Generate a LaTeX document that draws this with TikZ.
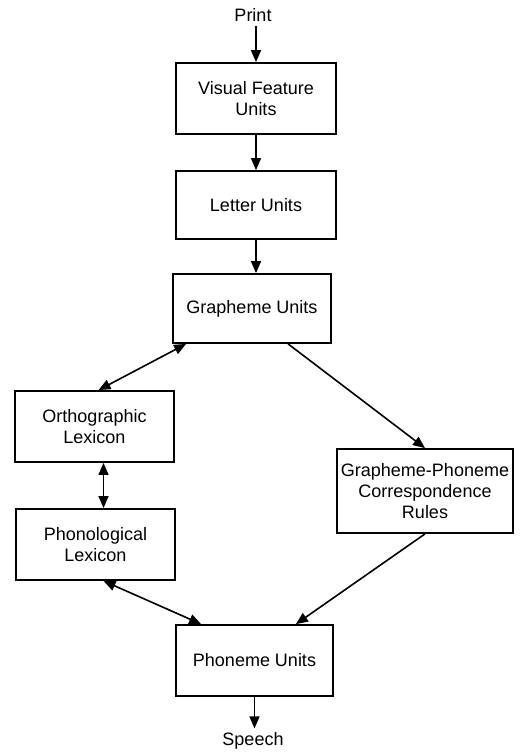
\documentclass[tikz,border=0pt]{standalone}
\usepackage{fontspec}
\setmainfont{Liberation Sans}
\usetikzlibrary{arrows.meta,calc}
\begin{document}
\begin{tikzpicture}[x=1pt,y=-1pt,
  box/.style={draw,line width=1.8pt,rectangle,inner sep=0pt,align=center,font=\fontsize{18}{21}\selectfont},
  lbl/.style={inner sep=0pt,font=\fontsize{18}{21}\selectfont},
  conn/.style={line width=1.6pt,-{Triangle[length=12pt,width=10pt]}},
  biconn/.style={line width=1.6pt,{Triangle[length=12pt,width=10pt]}-{Triangle[length=12pt,width=10pt]}}]
\fill[white] (0,0) rectangle (532,754);
\useasboundingbox (0,0) rectangle (532,754);
\node[lbl] (print) at (253,15) {Print};
\node[box,minimum width=160pt,minimum height=71pt] (vis) at (256,98.5) {Visual Feature\\Units};
\node[box,minimum width=160pt,minimum height=68pt] (let) at (256,205) {Letter Units};
\node[box,minimum width=158pt,minimum height=69pt] (gra) at (252,308.5) {Grapheme Units};
\node[box,minimum width=159pt,minimum height=71pt] (ort) at (94.5,426.5) {Orthographic\\Lexicon};
\node[box,minimum width=159pt,minimum height=71pt] (pho) at (95.5,544.5) {Phonological\\Lexicon};
\node[box,minimum width=176pt,minimum height=84pt] (gpc) at (425,491) {Grapheme-Phoneme\\Correspondence\\Rules};
\node[box,minimum width=157pt,minimum height=71pt] (phu) at (254.5,660.5) {Phoneme Units};
\node[lbl] (speech) at (253,741) {Speech};
\coordinate (printend) at ($(print.south -| vis.north)+(0,4)$);
\coordinate (speechend) at ($(speech.north -| phu.south)+(0,-4)$);
\draw[conn] (printend) -- (vis.north);
\draw[conn] (vis.south) -- (let.north);
\draw[conn] (let.south) -- (let.south |- gra.north);
\draw[biconn] ($(ort.north)+(4,0)$) -- ($(gra.south west)+(14,0)$);
\draw[conn] ($(gra.south west)+(116,0)$) -- (gpc.north);
\draw[biconn] ($(ort.south)+(9,0)$) -- ($(pho.north)+(8,0)$);
\draw[biconn] ($(pho.south)+(8,0)$) -- ($(phu.north west)+(26,0)$);
\draw[conn] (gpc.south) -- ($(phu.north east)+(-38,0)$);
\draw[conn] (phu.south) -- (speechend);
\end{tikzpicture}
\end{document}
